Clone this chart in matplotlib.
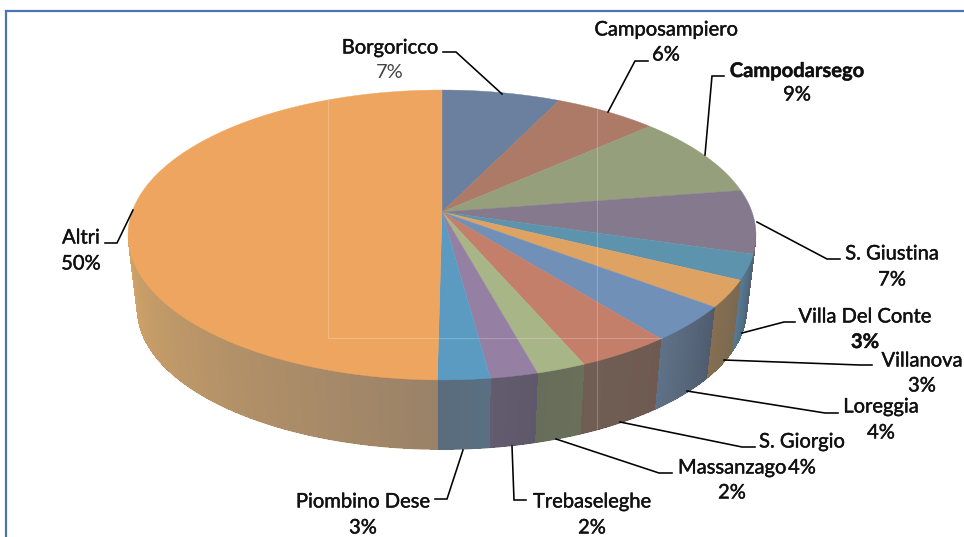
import numpy as np
import matplotlib
matplotlib.use('Agg')
import matplotlib.pyplot as plt
import matplotlib.patheffects as pe

plt.rcParams['font.family'] = ['Lato', 'DejaVu Sans']

# slice sizes (the printed labels are rounded)
names = ['Borgoricco', 'Camposampiero', 'Campodarsego', 'S. Giustina', 'Villa Del Conte', 'Villanova',
         'Loreggia', 'S. Giorgio', 'Massanzago', 'Trebaseleghe', 'Piombino Dese', 'Altri']
sizes = [7.1, 6.2, 9.2, 7.1, 2.8, 3.0, 4.0, 4.2, 2.2, 2.1, 2.3, 49.8]
percent = ['7%', '6%', '9%', '7%', '3%', '3%', '4%', '4%', '2%', '2%', '3%', '50%']

top_colors = ['#6b7f9e', '#ad7a68', '#969f7c', '#857a8d', '#5e93ae', '#dea363',
              '#7090b8', '#c47f6a', '#a8b587', '#957fa3', '#5b9bc2', '#eea55f']
wall_start = ['#6b7f9e', '#6b7f9e', '#6b7f9e', '#5f5a68', '#4a6478', '#7a6850',
              '#505c6e', '#6e5a50', '#6a6f5a', '#5e586a', '#5a6f82', '#9a8268']
wall_end = ['#6b7f9e', '#6b7f9e', '#6b7f9e', '#66606e', '#587a92', '#866f52',
            '#5f7288', '#705e54', '#666d5a', '#625c6e', '#5a6c7c', '#d2a468']

# label centres in pixels
name_xy = [(390, 48), (666, 30), (797, 71), (892, 254), (865, 317), (922, 361),
           (881, 407), (802, 442), (732, 468), (592, 502), (363, 502), (81, 238)]
pct_xy = [(390, 72), (666, 55), (797, 95), (892, 280), (865, 342), (922, 386),
          (881, 433), (802, 468), (732, 493), (592, 528), (363, 528), (81, 264)]

leaders = [
    [(443, 52), (456, 52), (502, 94)],
    [(648, 61), (635, 61), (608, 112)],
    [(724, 76), (712, 76), (705, 155)],
    [(757, 222), (827, 259), (840, 259)],
    [(742, 333), (784, 322), (795, 322)],
    [(724, 360), (860, 365), (872, 365)],
    [(687, 391), (825, 413), (838, 413)],
    [(620, 422), (742, 447), (755, 447)],
    [(556, 439), (659, 473), (672, 473)],
    [(512, 446), (514, 500), (526, 500)],
    [(463, 450), (447, 499), (435, 499)],
    [(133, 210), (117, 243), (105, 243)],
]

# perspective of the disc
cx = 442
k = 0.1586


def project(theta, cy, r, a):
    # theta in degrees, clockwise from 12 o'clock
    t = np.radians(theta)
    d = 1 + k * np.cos(t)
    return cx + r * np.sin(t) / d, cy - a * np.cos(t) / d


def top_rim(theta):
    return project(theta, 212, 310, 141.3)


def bottom_rim(theta):
    return project(theta, 287, 301, 137)


def mix(c1, c2, f):
    c1 = np.array(matplotlib.colors.to_rgb(c1))
    c2 = np.array(matplotlib.colors.to_rgb(c2))
    return c1 + (c2 - c1) * f


fig = plt.figure(figsize=(9.64, 5.37), dpi=100)
ax = fig.add_axes([0, 0, 1, 1])
ax.set_xlim(0, 964)
ax.set_ylim(537, 0)
ax.axis('off')

edges = np.concatenate([[0], np.cumsum(sizes)]) / sum(sizes) * 360

# outer wall, only the part that faces the viewer
for i in range(len(sizes)):
    a1 = max(edges[i], 99)
    a2 = min(edges[i + 1], 261)
    if a2 <= a1:
        continue
    # solid base first so the outline stays smooth, gradient strips over it
    th = np.linspace(a1, a2, 100)
    xt, yt = top_rim(th)
    xb, yb = bottom_rim(th[::-1])
    ax.fill(np.r_[xt, xb], np.r_[yt, yb], color=mix(wall_start[i], wall_end[i], 0.5), lw=0, zorder=2)
    steps = np.linspace(a1, a2, max(int((a2 - a1) * 2), 2) + 1)
    for s1, s2 in zip(steps[:-1], steps[1:]):
        x1, y1 = top_rim(s1)
        x2, y2 = top_rim(s2)
        x3, y3 = bottom_rim(s2)
        x4, y4 = bottom_rim(s1)
        col = mix(wall_start[i], wall_end[i], (s1 - a1) / (a2 - a1))
        ax.fill([x1, x2, x3, x4], [y1, y2, y3 - 0.7, y4 - 0.7], color=col, lw=0, antialiased=False, zorder=2)

# top face
for i in range(len(sizes)):
    th = np.linspace(edges[i], edges[i + 1], 150)
    x, y = top_rim(th)
    ax.fill(np.r_[cx, x], np.r_[212, y], color=top_colors[i], lw=0.3, zorder=3)

# faint scan lines left over in the source picture
ax.plot([328, 328, 662], [100, 338, 338], color='white', alpha=0.22, lw=0.8, zorder=4)
ax.plot([597, 597], [110, 428], color='white', alpha=0.22, lw=0.8, zorder=4)

for pts in leaders:
    xs, ys = zip(*pts)
    ax.plot(xs, ys, color='black', lw=1.15, zorder=5, solid_joinstyle='miter')

dark = [pe.withStroke(linewidth=0.3, foreground='#111111')]
for i in range(len(names)):
    w = 'bold' if names[i] == 'Campodarsego' else 'normal'
    ax.text(name_xy[i][0], name_xy[i][1], names[i], ha='center', va='center', fontsize=14.5,
            color='#111111', fontweight=w, zorder=6, path_effects=dark)
    w = 'bold' if names[i] == 'Villa Del Conte' else 'normal'
    c = '#444444' if names[i] == 'Borgoricco' else '#111111'
    t = ax.text(pct_xy[i][0], pct_xy[i][1], percent[i], ha='center', va='center', fontsize=14.5,
                color=c, fontweight=w, zorder=6)
    if c != '#444444':
        t.set_path_effects(dark)

# frame of the chart, cut by the edge of the picture on the right and below
ax.plot([6, 6, 964], [537, 11, 11], color='#4a75ad', lw=1.6, zorder=1, solid_joinstyle='miter')

fig.savefig('out.png', dpi=100)
